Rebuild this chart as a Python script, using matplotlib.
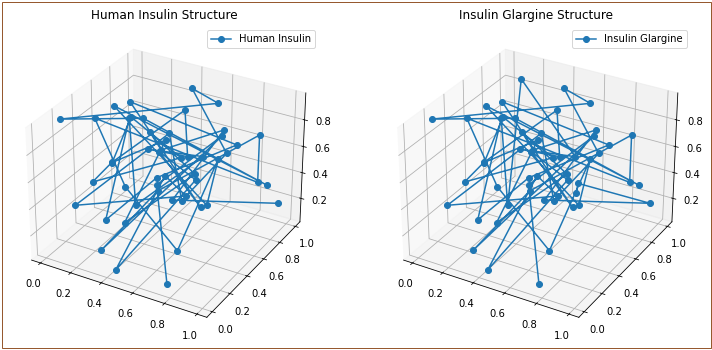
import matplotlib
matplotlib.use("Agg")
import matplotlib.pyplot as plt
from matplotlib.patches import Rectangle

W, H = 712, 350

# Human insulin coordinates
human_x = [0.770,0.447,0.718,0.313,0.463,0.904,0.903,0.095,0.271,0.739,0.763,0.766,0.096,0.932,0.220,0.000,0.615,
           0.421,0.792,0.632,0.414,0.114,0.638,0.479,0.446,0.682,0.415,0.747,0.125,
           0.827,0.428,0.254,0.176,0.381,0.677,0.337,0.580,0.446,0.226,0.166,0.554,0.176,0.228,
           0.413,0.371,0.668,0.302,0.415,0.716,0.573,0.969]
human_y = [0.019,0.463,0.724,0.084,0.445,0.814,0.810,0.387,0.414,0.186,0.596,0.465,0.586,0.867,0.701,0.181,0.863,
           0.907,0.639,0.421,0.661,0.137,0.458,0.501,0.017,0.488,0.548,0.429,0.715,
           0.690,0.496,0.228,0.621,0.343,0.581,0.559,0.577,0.783,0.346,0.239,0.549,0.640,0.349,
           0.623,0.239,0.505,0.637,0.570,0.746,0.420,0.947]
human_z = [0.095,0.449,0.758,0.139,0.419,0.773,0.419,0.876,0.404,0.227,0.670,0.404,0.862,0.375,0.744,0.950,0.891,
           0.921,0.699,0.419,0.714,0.375,0.434,0.508,0.080,0.552,0.640,0.404,0.832,
           0.744,0.478,0.257,0.773,0.345,0.670,0.626,0.640,0.832,0.611,0.508,0.640,0.773,0.611,
           0.685,0.272,0.581,0.699,0.640,0.788,0.404,0.198]

# Glargine has one extra point in the chain and two at the end
glargine_x = human_x[:34] + [0.138] + human_x[34:] + [0.739, 0.732]
glargine_y = human_y[:34] + [0.909] + human_y[34:] + [0.503, 0.497]
glargine_z = human_z[:34] + [0.906] + human_z[34:] + [0.537, 0.463]

fig = plt.figure(figsize=(W/72, H/72), dpi=72)
fig.add_artist(Rectangle((1.5/W, 2.5/H), (W-3)/W, (H-4)/H, transform=fig.transFigure,
                         fill=False, ec="#96592f", lw=1))


def draw(left, x, y, z, title, label):
    ax = fig.add_axes([left/W, (H-337)/H, 312/W, 312/H], projection="3d")
    ax.plot(x, y, z, marker="o", label=label)
    ax.set_xlim(-0.06, 1.06)
    ax.set_ylim(-0.06, 1.06)
    ax.set_zlim(0.015, 0.999)
    ax.set_zticks([0.2, 0.4, 0.6, 0.8])
    ax.set_title(title)
    ax.legend()


draw(8, human_x, human_y, human_z, "Human Insulin Structure", "Human Insulin")
draw(380, glargine_x, glargine_y, glargine_z, "Insulin Glargine Structure", "Insulin Glargine")

fig.savefig("out.png", dpi=72)
